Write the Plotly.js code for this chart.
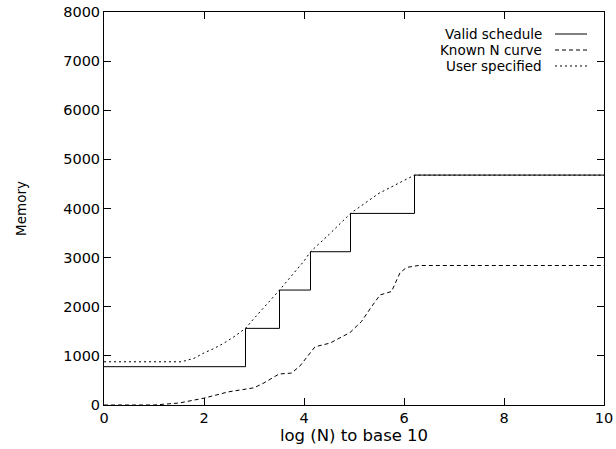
<!DOCTYPE html>
<html>
<head>
<meta charset="utf-8">
<script src="https://cdn.plot.ly/plotly-3.0.1.min.js"></script>
<style>html,body{margin:0;padding:0;background:#fff;}#chart{width:616px;height:449px;}</style>
</head>
<body>
<div id="chart"></div>
<script>
// Valid schedule (step function)
const validX = [0, 2.83, 3.51, 4.13, 4.93, 6.21, 10];
const validY = [780, 1560, 2340, 3120, 3900, 4680, 4680];
// Known N curve
const knownX = [0, 1.0, 1.5, 2.0, 2.5, 3.0, 3.2, 3.5, 3.75, 3.92, 4.22, 4.52, 4.92, 5.15, 5.35, 5.52, 5.75, 5.92, 6.05, 6.29, 10];
const knownY = [0, 0, 40, 140, 270, 350, 450, 630, 650, 795, 1185, 1260, 1475, 1700, 2000, 2240, 2310, 2690, 2800, 2840, 2840];
// User specified
const userX = [0, 1.55, 1.8, 2.0, 2.2, 2.4, 2.6, 2.83, 3.0, 3.51, 4.0, 4.13, 4.5, 4.93, 5.5, 6.0, 6.21, 10];
const userY = [880, 880, 950, 1060, 1150, 1260, 1390, 1560, 1760, 2340, 2930, 3120, 3470, 3900, 4310, 4580, 4680, 4680];
const legendNames = ["Valid schedule", "Known N curve", "User specified"];
const legendDash = ["solid", "4px,3px", "2px,3px"];
const xTicks = [0, 2, 4, 6, 8, 10];
const yTicks = [0, 1000, 2000, 3000, 4000, 5000, 6000, 7000, 8000];

const FONT = "DejaVu Sans, sans-serif";

const traces = [
  {x: validX, y: validY, mode: "lines", line: {shape: "hv", color: "#000", width: 1, dash: legendDash[0]}, name: legendNames[0]},
  {x: knownX, y: knownY, mode: "lines", line: {color: "#000", width: 1, dash: legendDash[1]}, name: legendNames[1]},
  {x: userX, y: userY, mode: "lines", line: {color: "#000", width: 1, dash: legendDash[2]}, name: legendNames[2]}
];

const legY = [0.944, 0.9033, 0.8626];
const annotations = legendNames.map((n, i) => ({
  xref: "paper", yref: "paper", x: 0.878, y: legY[i], xanchor: "right", yanchor: "middle",
  text: n, showarrow: false, borderpad: 0,
  font: {family: FONT, size: 13.5, color: "#000"}
}));
const shapes = legendNames.map((n, i) => ({
  type: "line", xref: "paper", yref: "paper", x0: 0.902, x1: 0.966, y0: legY[i], y1: legY[i],
  line: {color: "#000", width: 1, dash: legendDash[i]}
}));

const axisCommon = {
  showgrid: false, zeroline: false, showline: true, linecolor: "#000", linewidth: 1,
  mirror: "ticks", ticks: "inside", ticklen: 7, tickcolor: "#000", tickwidth: 1,
  tickfont: {family: FONT, size: 14.5, color: "#000"}
};

const layout = {
  width: 616, height: 449,
  margin: {l: 104, r: 12, t: 12, b: 44},
  paper_bgcolor: "#fff", plot_bgcolor: "#fff",
  showlegend: false,
  font: {family: FONT, color: "#000"},
  xaxis: Object.assign({}, axisCommon, {
    range: [0, 10], tickvals: xTicks, ticktext: xTicks.map(String),
    title: {text: "log (N) to base 10", font: {family: FONT, size: 16.5, color: "#000"}, standoff: 2}
  }),
  yaxis: Object.assign({}, axisCommon, {
    range: [0, 8000], tickvals: yTicks, ticktext: yTicks.map(String),
    title: {text: "Memory", font: {family: FONT, size: 13.5, color: "#000"}, standoff: 33}
  }),
  annotations: annotations,
  shapes: shapes
};

Plotly.newPlot("chart", traces, layout, {staticPlot: true, displayModeBar: false});
</script>
</body>
</html>
